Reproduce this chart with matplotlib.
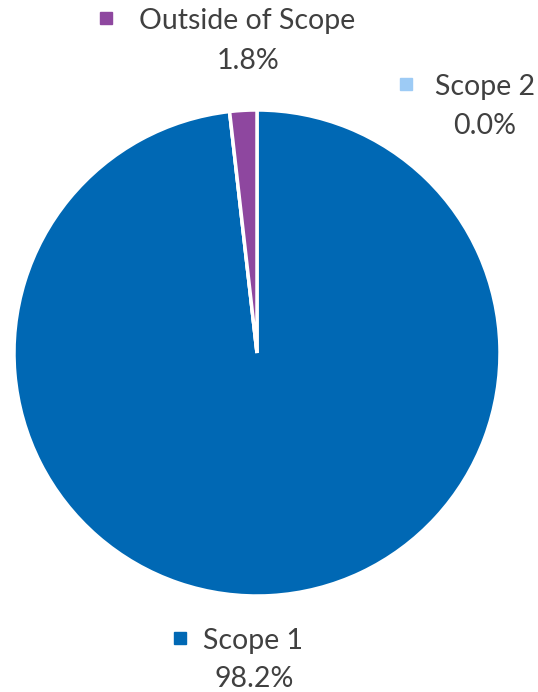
import matplotlib.pyplot as plt

# emission share by scope
labels = ['Scope 1', 'Scope 2', 'Outside of Scope']
shares = [98.2, 0.0, 1.8]
colors = ['#0068B4', '#9DCBF5', '#8E479F']

W, H = 538, 692
fig = plt.figure(figsize=(W / 100, H / 100), dpi=100)
ax = fig.add_axes([0, 0, 1, 1])

ax.pie(shares, colors=colors, startangle=90, counterclock=False,
       center=(257, H - 353), radius=243,
       wedgeprops=dict(edgecolor='white', linewidth=2.5))

# pie() resets the view, so fix the pixel frame afterwards
ax.set_xlim(0, W)
ax.set_ylim(0, H)
ax.set_aspect('equal')
ax.axis('off')

# label layout: (name x, name y, value x, value y, marker x)
label_pos = {
    'Scope 1': (253, 641, 254, 679, 180),
    'Scope 2': (485, 87, 485, 126, 406),
    'Outside of Scope': (247, 21, 248, 61, 106),
}

font = dict(family=['Lato', 'DejaVu Sans'], fontsize=20.5, color='#404040',
            ha='center', va='center')
for name, val, col in zip(labels, shares, colors):
    nx, ny, vx, vy, mx = label_pos[name]
    ax.text(nx, H - ny, name, **font)
    ax.text(vx, H - vy, f'{val:.1f}%', **font)
    ax.plot(mx, H - ny + 3, marker='s', markersize=9, color=col,
            linestyle='none', clip_on=False)

fig.savefig('out.png', dpi=100)
